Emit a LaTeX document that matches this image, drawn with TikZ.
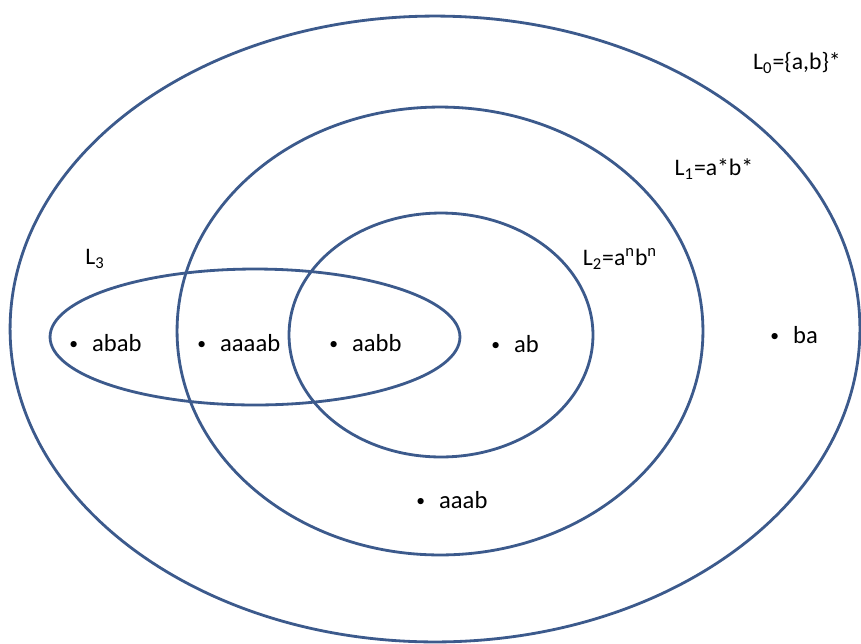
\documentclass[tikz,border=0pt]{standalone}
\usepackage{fontspec}
\setmainfont{Carlito}
\usepackage{tikz}
\usetikzlibrary{shapes.geometric,positioning}
\definecolor{setblue}{RGB}{60,90,140}
\tikzset{
  lang/.style ={ellipse, draw=setblue, line width=1.6pt, inner sep=0pt},
  word/.style ={anchor=west, inner sep=0pt, font=\fontsize{14}{16}\selectfont},
  lbl/.style  ={inner sep=0pt, font=\fontsize{13.5}{16}\selectfont}
}
\newcommand{\member}[1]{\raisebox{1pt}{\fontsize{10}{12}\selectfont\textbullet}\hspace{8pt}#1}
\begin{document}
\begin{tikzpicture}[x=0.02cm, y=-0.02cm]
\useasboundingbox (0,0) rectangle (861,643);
% the four languages
\node[lang, minimum width=17cm, minimum height=12.52cm] (lzero) at (435,329) {};
\node[lang, minimum width=10.52cm, minimum height=8.96cm] (lone) at (440,331) {};
\node[lang, minimum width=6.08cm, minimum height=4.88cm] (ltwo) at (441,335) {};
\node[lang, minimum width=8.2cm, minimum height=2.72cm] (lthree) at (255,337) {};
% labels
\node[lbl] (lzerolbl) at (797,63) {L\textsubscript{0}=\{a,b\}*};
\node[lbl] (lonelbl) at (714,169) {L\textsubscript{1}=a*b*};
\node[lbl] (ltwolbl) at (620,259) {L\textsubscript{2}=a\textsuperscript{n}b\textsuperscript{n}};
\node[lbl] (lthreelbl) at (95,259) {L\textsubscript{3}};
% words
\node[word] (abab) at (69,343) {\member{abab}};
\node[word] (aaaab) at (197,343) {\member{aaaab}};
\node[word] (aabb) at (329,343) {\member{aabb}};
\node[word] (ab) at (491,344) {\member{ab}};
\node[word] (ba) at (770,335) {\member{ba}};
\node[word] (aaab) at (416,500) {\member{aaab}};
\end{tikzpicture}
\end{document}
